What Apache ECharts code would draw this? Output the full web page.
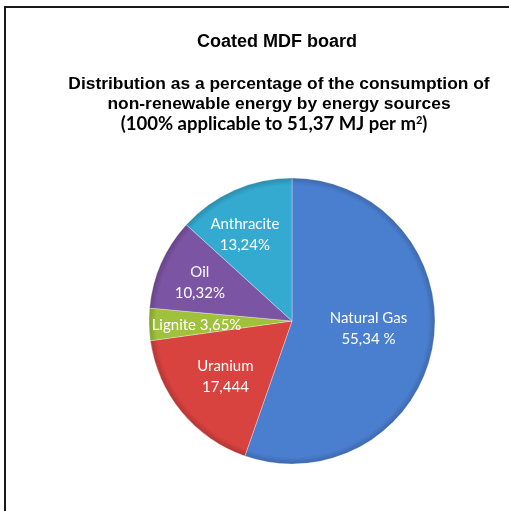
<!DOCTYPE html>
<html>
<head>
<meta charset="utf-8">
<style>
  html, body { margin: 0; padding: 0; background: #ffffff; }
  #chart { width: 509px; height: 511px; }
</style>
<script src="https://cdn.jsdelivr.net/npm/echarts@6/dist/echarts.min.js"></script>
</head>
<body>
<div id="chart"></div>
<script>
// Energy sources, clockwise from 12 o'clock
const sources = ['Natural Gas', 'Uranium', 'Lignite', 'Oil', 'Anthracite'];
const shares = [55.34, 17.444, 3.65, 10.32, 13.24];
const shareLabels = ['55,34 %', '17,444', '3,65%', '10,32%', '13,24%'];
const sliceColors = ['#4a7fd0', '#d8423f', '#9fc13c', '#7c54a4', '#34aad0'];

// Label nudges inside each slice (pixels)
const labelShift = [[3, -5], [-9, 8], [-21, 2], [-24, -8], [-17, -18]];
// Single-line labels (narrow slices)
const singleLine = [false, false, true, false, false];

const CX = 292, CY = 321, R = 143;

function shade(hex, k) {
  const n = parseInt(hex.slice(1), 16);
  let r = (n >> 16) & 255, g = (n >> 8) & 255, b = n & 255;
  r = Math.round(Math.min(255, r * k));
  g = Math.round(Math.min(255, g * k));
  b = Math.round(Math.min(255, b * k));
  return 'rgb(' + r + ',' + g + ',' + b + ')';
}

const chart = echarts.init(document.getElementById('chart'), null, { renderer: 'canvas' });

const data = sources.map((name, i) => ({
  name: name,
  value: shares[i],
  itemStyle: {
    color: {
      type: 'radial', x: CX, y: CY, r: R, global: true,
      colorStops: [
        { offset: 0, color: shade(sliceColors[i], 1.0) },
        { offset: 0.95, color: shade(sliceColors[i], 1.0) },
        { offset: 1, color: shade(sliceColors[i], 0.82) }
      ]
    }
  }
}));

chart.setOption({
  backgroundColor: '#ffffff',
  animation: false,
  graphic: [{
    type: 'rect',
    shape: { x: 5, y: 7, width: 520, height: 520 },
    style: { fill: 'none', stroke: '#1a1a1a', lineWidth: 2 },
    silent: true
  }],
  title: [
    {
      text: 'Coated MDF board',
      left: 272, top: 28, textAlign: 'center',
      textStyle: { fontFamily: 'Liberation Sans, Arial, sans-serif', fontSize: 18, fontWeight: 'bold', color: '#000' }
    },
    {
      text: 'Distribution as a percentage of the consumption of\nnon-renewable energy by energy sources',
      left: 274, top: 69, textAlign: 'center',
      textStyle: { fontFamily: 'Liberation Sans, Arial, sans-serif', fontSize: 17.4, fontWeight: 'bold', color: '#000', lineHeight: 20 }
    },
    {
      text: '{a|(100% applicable to 51,37 MJ per m}{s|2}{a|)}',
      left: 269, top: 110, textAlign: 'center',
      textStyle: {
        rich: {
          a: { fontFamily: 'Lato, Open Sans, sans-serif', fontSize: 18.5, fontWeight: 'bold', color: '#000' },
          s: { fontFamily: 'Lato, Open Sans, sans-serif', fontSize: 11, fontWeight: 'bold', color: '#000', verticalAlign: 'top', padding: [0, 0, 8, 0] }
        }
      }
    }
  ],
  series: [{
    type: 'pie',
    center: [CX, CY],
    radius: R,
    startAngle: 90,
    clockwise: true,
    avoidLabelOverlap: false,
    itemStyle: { borderColor: 'rgba(255,255,255,0.3)', borderWidth: 1 },
    label: {
      show: true,
      position: 'inside',
      color: '#ffffff',
      fontFamily: 'Lato, Open Sans, sans-serif',
      fontSize: 15,
      lineHeight: 21,
      formatter: function (p) {
        const i = p.dataIndex;
        return singleLine[i] ? p.name + ' ' + shareLabels[i] : p.name + '\n' + shareLabels[i];
      }
    },
    labelLine: { show: false },
    labelLayout: function (p) {
      const s = labelShift[p.dataIndex];
      return { dx: s[0], dy: s[1] };
    },
    emphasis: { disabled: true },
    data: data
  }]
});
</script>
</body>
</html>
